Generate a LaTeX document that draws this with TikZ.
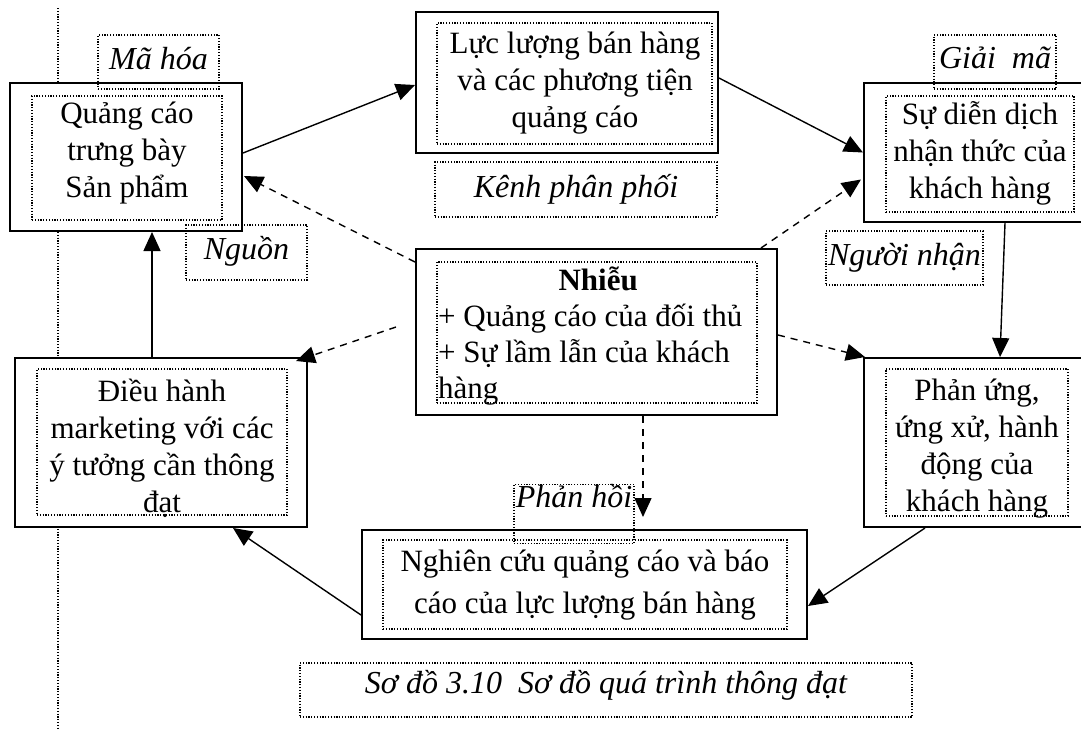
\documentclass[tikz,border=0pt]{standalone}
\usepackage{fontspec}
\setmainfont{Liberation Serif}
\usetikzlibrary{arrows.meta,calc}
\newcommand\fixedlines{\lineskiplimit=-100pt\relax\lineskip=0pt\relax}
\begin{document}
\begin{tikzpicture}[x=1pt,y=-1pt,
  frame/.style={draw, line width=2pt, fill=white, inner sep=0pt},
  dotbox/.style={draw, line width=1.2pt, dash pattern=on 1.2pt off 1.6pt, inner sep=0pt},
  body/.style={font=\fontsize{31}{37}\selectfont\fixedlines, align=center, inner sep=0pt},
  tag/.style={dotbox, font=\fontsize{32}{36}\selectfont\itshape},
  flow/.style={-{Triangle[length=19pt,width=17pt]}, line width=1.4pt},
  noise/.style={flow, dash pattern=on 7pt off 6pt}]
\useasboundingbox (0,0) rectangle (1081,728);
\fill[white] (0,0) rectangle (1081,728);
\clip (0,0) rectangle (1081,728);

% margin rule on the left
\coordinate (rtop) at (58,8);
\coordinate (rbot) at (58,728);
\draw[line width=1.2pt, dash pattern=on 1.2pt off 1.6pt] (rtop) -- (rbot);

% outer frames
\node[frame, minimum width=232pt, minimum height=148pt] (A) at (126,157) {};
\node[frame, minimum width=302pt, minimum height=141pt] (B) at (567,82.5) {};
\node[frame, minimum width=236pt, minimum height=139pt] (C) at (982,152.5) {};
\node[frame, minimum width=361pt, minimum height=166pt] (N) at (596.5,332) {};
\node[frame, minimum width=292pt, minimum height=169pt] (D) at (161,442.5) {};
\node[frame, minimum width=236pt, minimum height=169pt] (E) at (982,442.5) {};
\node[frame, minimum width=445pt, minimum height=109pt] (F) at (584.5,584.5) {};

% inner dotted frames
\node[dotbox, minimum width=190pt, minimum height=124pt] (Ain) at (127,158) {};
\node[dotbox, minimum width=275pt, minimum height=121pt] (Bin) at (574.5,83.5) {};
\node[dotbox, minimum width=188pt, minimum height=116pt] (Cin) at (980,154) {};
\node[dotbox, minimum width=320pt, minimum height=141pt] (Nin) at (597,332.5) {};
\node[dotbox, minimum width=250pt, minimum height=146pt] (Din) at (162,442) {};
\node[dotbox, minimum width=182pt, minimum height=147pt] (Ein) at (977,442.5) {};
\node[dotbox, minimum width=404pt, minimum height=89pt] (Fin) at (585,584.5) {};

% box texts
\node[body] (At) at (127,153.5) {Quảng cáo\\trưng bày\\Sản phẩm};
\node[body] (Bt) at (575,83) {Lực lượng bán hàng\\và các phương tiện\\quảng cáo};
\node[body] (Ct) at (980,153) {Sự diễn dịch\\nhận thức của\\khách hàng};
\node[body, font=\fontsize{31}{36}\selectfont\fixedlines, align=left, anchor=west] (Nt) at (438,336)
  {\makebox[320pt]{\bfseries Nhiễu}\\+ Quảng cáo của đối thủ\\+ Sự lầm lẫn của khách\\hàng};
\node[body] (Dt) at (162,448) {Điều hành\\marketing với các\\ý tưởng cần thông\\đạt};
\node[body] (Et) at (977,449) {Phản ứng,\\ứng xử, hành\\động của\\khách hàng};
\node[body, font=\fontsize{31}{42}\selectfont\fixedlines] (Ft) at (585,585) {Nghiên cứu quảng cáo và báo\\cáo của lực lượng bán hàng};

% italic tags
\node[tag, text depth=8pt, minimum width=121pt, minimum height=54pt] (ma) at (158.5,62) {Mã hóa};
\node[tag, text depth=10pt, minimum width=121pt, minimum height=55pt] (nguon) at (246.5,252.5) {Nguồn};
\node[tag, minimum width=282pt, minimum height=55pt] (kenh) at (576,189.5) {Kênh phân phối};
\node[tag, text depth=8pt, minimum width=122pt, minimum height=54pt] (giai) at (995,62) {Giải\ \ mã};
\node[tag, minimum width=157pt, minimum height=54pt] (nhan) at (904.5,258) {Người nhận};
\node[tag, text depth=36pt, minimum width=120pt, minimum height=54pt] (hoi) at (574,514) {Phản hồi};
\node[tag, text depth=17pt, minimum width=612pt, minimum height=54pt] (cap) at (606,690) {Sơ đồ 3.10\ \ Sơ đồ quá trình thông đạt};

% message flow
\draw[flow] ($(A.east)+(0,-4)$) -- ($(B.west)+(0,2.5)$);
\draw[flow] ($(B.east)+(0,-4.5)$) -- (C.west);
\draw[flow] ($(C.south)+(23,0)$) -- ($(E.north)+(18,0)$);
\draw[flow] ($(E.south)+(-57,0)$) -- ($(F.east)+(0,21.5)$);
\draw[flow] ($(F.west)+(0,30.5)$) -- ($(D.south east)+(-75,0)$);
\draw[flow] ($(D.north)+(-9,0)$) -- ($(A.south)+(26,0)$);

% noise
\draw[noise] ($(N.north west)+(0,14)$) -- ($(A.east)+(1,19)$);
\draw[noise] ($(N.west)+(-19,-5)$) -- ($(D.north east)+(-12,4)$);
\draw[noise] ($(N.north east)+(-17,0)$) -- ($(C.west)+(-2,27)$);
\draw[noise] ($(N.east)+(0,3)$) -- ($(E.north west)+(2,0)$);
\draw[noise] ($(N.south)+(46.5,0)$) -- ($(F.north)+(58.5,-12)$);
\end{tikzpicture}
\end{document}
